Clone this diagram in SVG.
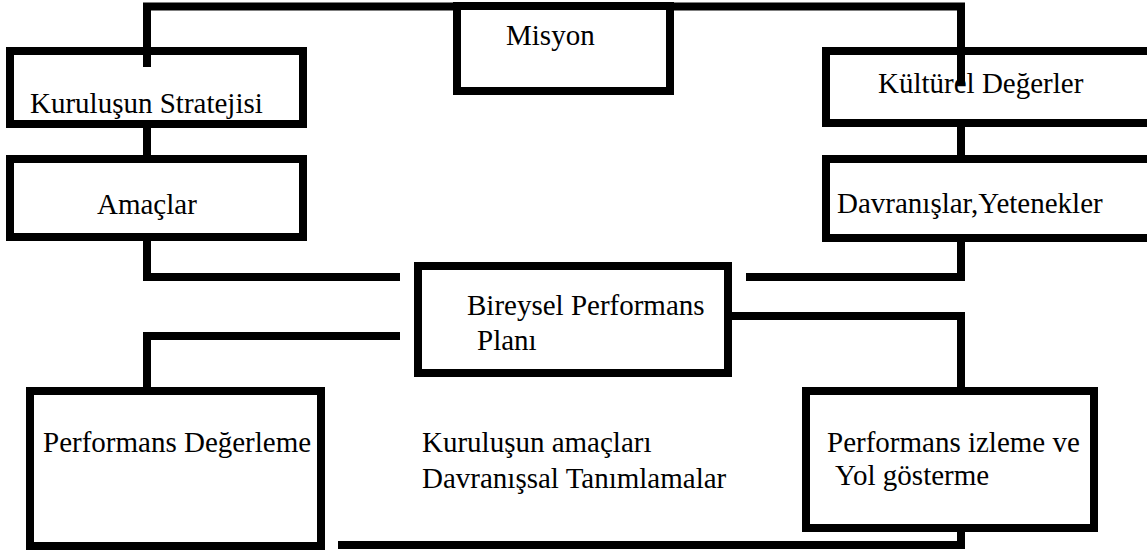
<svg xmlns="http://www.w3.org/2000/svg" width="1147" height="550" viewBox="0 0 1147 550">
<style>
.box{fill:#fff;stroke:#000;stroke-width:8}
.ln{fill:none;stroke:#000;stroke-width:8;stroke-linecap:square}
.t{font-family:'Liberation Serif','DejaVu Serif',serif;font-size:29px;fill:#000}
</style>
<rect width="1147" height="550" fill="#fff"/>
<g id="connectors">
<path class="ln" d="M147 63 V6.5 H961 V82"/>
<path class="ln" d="M147 128 V157"/>
<path class="ln" d="M961 127 V157"/>
<path class="ln" d="M147 241 V277 H396"/>
<path class="ln" d="M396 336 H147 V387"/>
<path class="ln" d="M961 242 V277 H750"/>
<path class="ln" d="M732 316 H961 V387"/>
<path class="ln" d="M961 530 V545 H342"/>
</g>
<g id="misyon">
<rect class="box" x="457" y="6" width="213" height="85"/>
<text class="t" font-family="Liberation Serif, serif" x="506" y="45">Misyon</text>
</g>
<g id="strateji">
<rect class="box" x="10" y="51" width="293" height="73"/>
<path class="ln" d="M147 47 V63"/>
<text class="t" font-family="Liberation Serif, serif" x="30" y="113">Kuruluşun Stratejisi</text>
</g>
<g id="amaclar">
<rect class="box" x="10" y="159" width="293" height="78"/>
<text class="t" font-family="Liberation Serif, serif" x="97" y="214">Amaçlar</text>
</g>
<g id="kulturel">
<rect class="box" x="826" y="51" width="340" height="72"/>
<path class="ln" d="M961 47 V82"/>
<text class="t" font-family="Liberation Serif, serif" x="878" y="93">Kültürel Değerler</text>
</g>
<g id="davranislar">
<rect class="box" x="826" y="159" width="340" height="79"/>
<text class="t" font-family="Liberation Serif, serif" x="837" y="213">Davranışlar,Yetenekler</text>
</g>
<g id="bireysel">
<rect class="box" x="418" y="266" width="310" height="107"/>
<text class="t" font-family="Liberation Serif, serif" x="467" y="315">Bireysel Performans</text>
<text class="t" font-family="Liberation Serif, serif" x="477" y="350">Planı</text>
</g>
<g id="degerleme">
<rect class="box" x="30" y="391" width="291" height="155"/>
<text class="t" font-family="Liberation Serif, serif" x="43" y="452">Performans Değerleme</text>
</g>
<g id="izleme">
<rect class="box" x="806" y="391" width="288" height="137"/>
<text class="t" font-family="Liberation Serif, serif" x="827" y="452">Performans izleme ve</text>
<text class="t" font-family="Liberation Serif, serif" x="835" y="485">Yol gösterme</text>
</g>
<g id="center-label">
<text class="t" font-family="Liberation Serif, serif" x="422" y="452">Kuruluşun amaçları</text>
<text class="t" font-family="Liberation Serif, serif" x="422" y="488">Davranışsal Tanımlamalar</text>
</g>
</svg>
